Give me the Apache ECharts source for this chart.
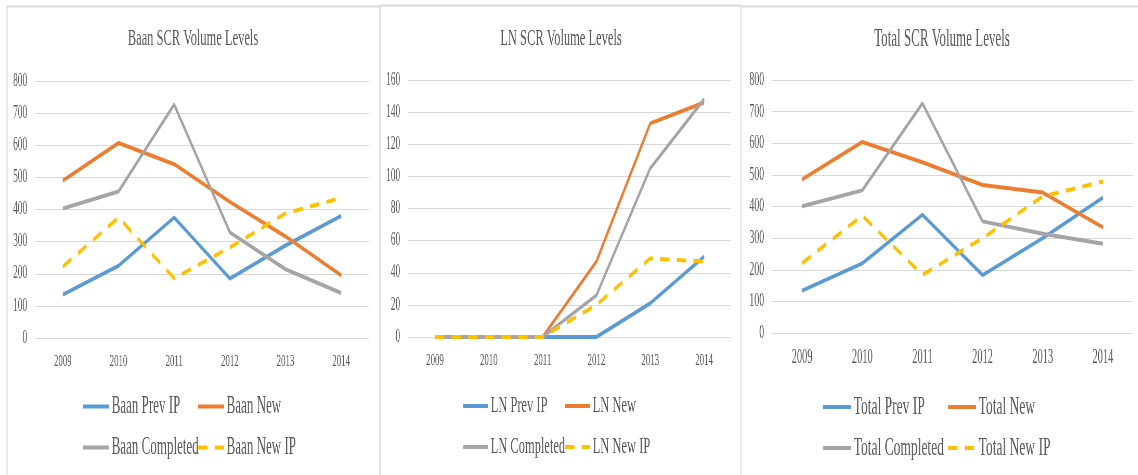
<!DOCTYPE html>
<html>
<head>
<meta charset="utf-8">
<script src="https://cdn.jsdelivr.net/npm/echarts@6/dist/echarts.min.js"></script>
<style>
html,body{margin:0;padding:0;background:#fff;overflow:hidden;}
#wrap{width:1138px;height:475px;overflow:hidden;position:relative;}
#c{width:2189px;height:475px;transform:scaleX(0.52);transform-origin:0 0;}
</style>
</head>
<body>
<div id="wrap"><div id="c"></div></div>
<script>
const years = ['2009','2010','2011','2012','2013','2014'];

const baanPrevIP    = [135, 225, 375, 185, 288, 380];
const baanNew       = [490, 607, 541, 424, 316, 195];
const baanCompleted = [403, 456, 727, 329, 214, 140];
const baanNewIP     = [222, 375, 186, 282, 388, 436];

const lnPrevIP    = [0, 0, 0, 0, 21, 50];
const lnNew       = [0, 0, 0, 47, 133, 146];
const lnCompleted = [0, 0, 0, 26, 105, 148];
const lnNewIP     = [0, 0, 0, 20, 49, 47];

const totalPrevIP    = [134, 220, 374, 183, 300, 428];
const totalNew       = [486, 604, 540, 468, 444, 334];
const totalCompleted = [401, 451, 726, 353, 314, 282];
const totalNewIP     = [221, 371, 184, 300, 432, 479];

const titles = ['Baan SCR Volume Levels', 'LN SCR Volume Levels', 'Total SCR Volume Levels'];
const seriesNames = [
  ['Baan Prev IP', 'Baan New', 'Baan Completed', 'Baan New IP'],
  ['LN Prev IP', 'LN New', 'LN Completed', 'LN New IP'],
  ['Total Prev IP', 'Total New', 'Total Completed', 'Total New IP']
];
const seriesData = [
  [baanPrevIP, baanNew, baanCompleted, baanNewIP],
  [lnPrevIP, lnNew, lnCompleted, lnNewIP],
  [totalPrevIP, totalNew, totalCompleted, totalNewIP]
];
const yMax = [800, 160, 800];
const yInterval = [100, 20, 100];

const S = 0.52; // horizontal squeeze of the reference
const W = 2189;
const ux = v => v / S;

const colors = ['#5b9bd5', '#ed7d31', '#a5a5a5', '#ffc000'];
const txt = '#595959';
const font = '"Liberation Serif", "Times New Roman", serif';

const grids = [
  {left: ux(35),  right: W - ux(369),  top: 81, bottom: 137},
  {left: ux(408), right: W - ux(731),  top: 80, bottom: 138},
  {left: ux(772), right: W - ux(1133), top: 80, bottom: 142}
];
const titleX = [193, 561, 942];
const titleSize = [24, 24, 25];
const xLabelSize = [17, 17, 20];
const yLabelSize = [18, 18, 19];
const legendCols = [[82, 197], [462, 564], [822, 947]];
const legendIconW = [26, 25, 28];
const legendFont = [25, 24, 26];
const legendRows = [406, 447];

const option = {
  animation: false,
  backgroundColor: '#fff',
  textStyle: {fontFamily: font},
  title: [],
  grid: [],
  xAxis: [],
  yAxis: [],
  legend: [],
  series: [],
  graphic: [
    {type: 'rect', shape: {x: ux(7), y: 6.5, width: ux(373), height: 480}, style: {fill: 'none', stroke: '#d9d9d9', lineWidth: 2}, z: -1},
    {type: 'rect', shape: {x: ux(380), y: 5.5, width: ux(361), height: 480}, style: {fill: 'none', stroke: '#d9d9d9', lineWidth: 2}, z: -1},
    {type: 'rect', shape: {x: ux(741), y: 6.5, width: ux(400), height: 480}, style: {fill: 'none', stroke: '#d9d9d9', lineWidth: 2}, z: -1}
  ]
};

for (let p = 0; p < 3; p++) {
  option.title.push({
    text: titles[p], left: ux(titleX[p]), top: 27, textAlign: 'center', padding: 0,
    textStyle: {fontFamily: font, fontWeight: 'normal', fontSize: titleSize[p], color: txt}
  });
  option.grid.push(Object.assign({containLabel: false, outerBoundsMode: 'none'}, grids[p]));
  option.xAxis.push({
    type: 'category', gridIndex: p, data: years, boundaryGap: true,
    axisLine: {show: true, lineStyle: {color: '#d9d9d9', width: 1}},
    axisTick: {show: false},
    axisLabel: {fontFamily: font, fontSize: xLabelSize[p], color: txt, margin: 15}
  });
  option.yAxis.push({
    type: 'value', gridIndex: p, min: 0, max: yMax[p], interval: yInterval[p],
    axisLine: {show: false}, axisTick: {show: false},
    splitLine: {lineStyle: {color: '#d9d9d9', width: 1}},
    axisLabel: {fontFamily: font, fontSize: yLabelSize[p], color: txt, margin: 15}
  });
  for (let s = 0; s < 4; s++) {
    option.series.push({
      name: seriesNames[p][s], type: 'line', xAxisIndex: p, yAxisIndex: p,
      data: seriesData[p][s], symbol: 'none', smooth: false,
      lineStyle: {color: colors[s], width: 4, type: s === 3 ? [18, 14] : 'solid', cap: 'butt'},
      itemStyle: {color: colors[s]},
      emphasis: {disabled: true}
    });
    const row = s < 2 ? 0 : 1;
    const col = s % 2;
    option.legend.push({
      data: [seriesNames[p][s]],
      left: ux(legendCols[p][col]),
      top: legendRows[row] - 12,
      padding: 0,
      itemWidth: ux(legendIconW[p]),
      itemHeight: 14,
      selectedMode: false,
      itemStyle: {opacity: 0, color: 'rgba(0,0,0,0)', borderWidth: 0},
      lineStyle: {width: 4},
      textStyle: {fontFamily: font, fontSize: legendFont[p], color: txt}
    });
  }
}

const chart = echarts.init(document.getElementById('c'), null, {renderer: 'canvas'});
chart.setOption(option);
</script>
</body>
</html>
